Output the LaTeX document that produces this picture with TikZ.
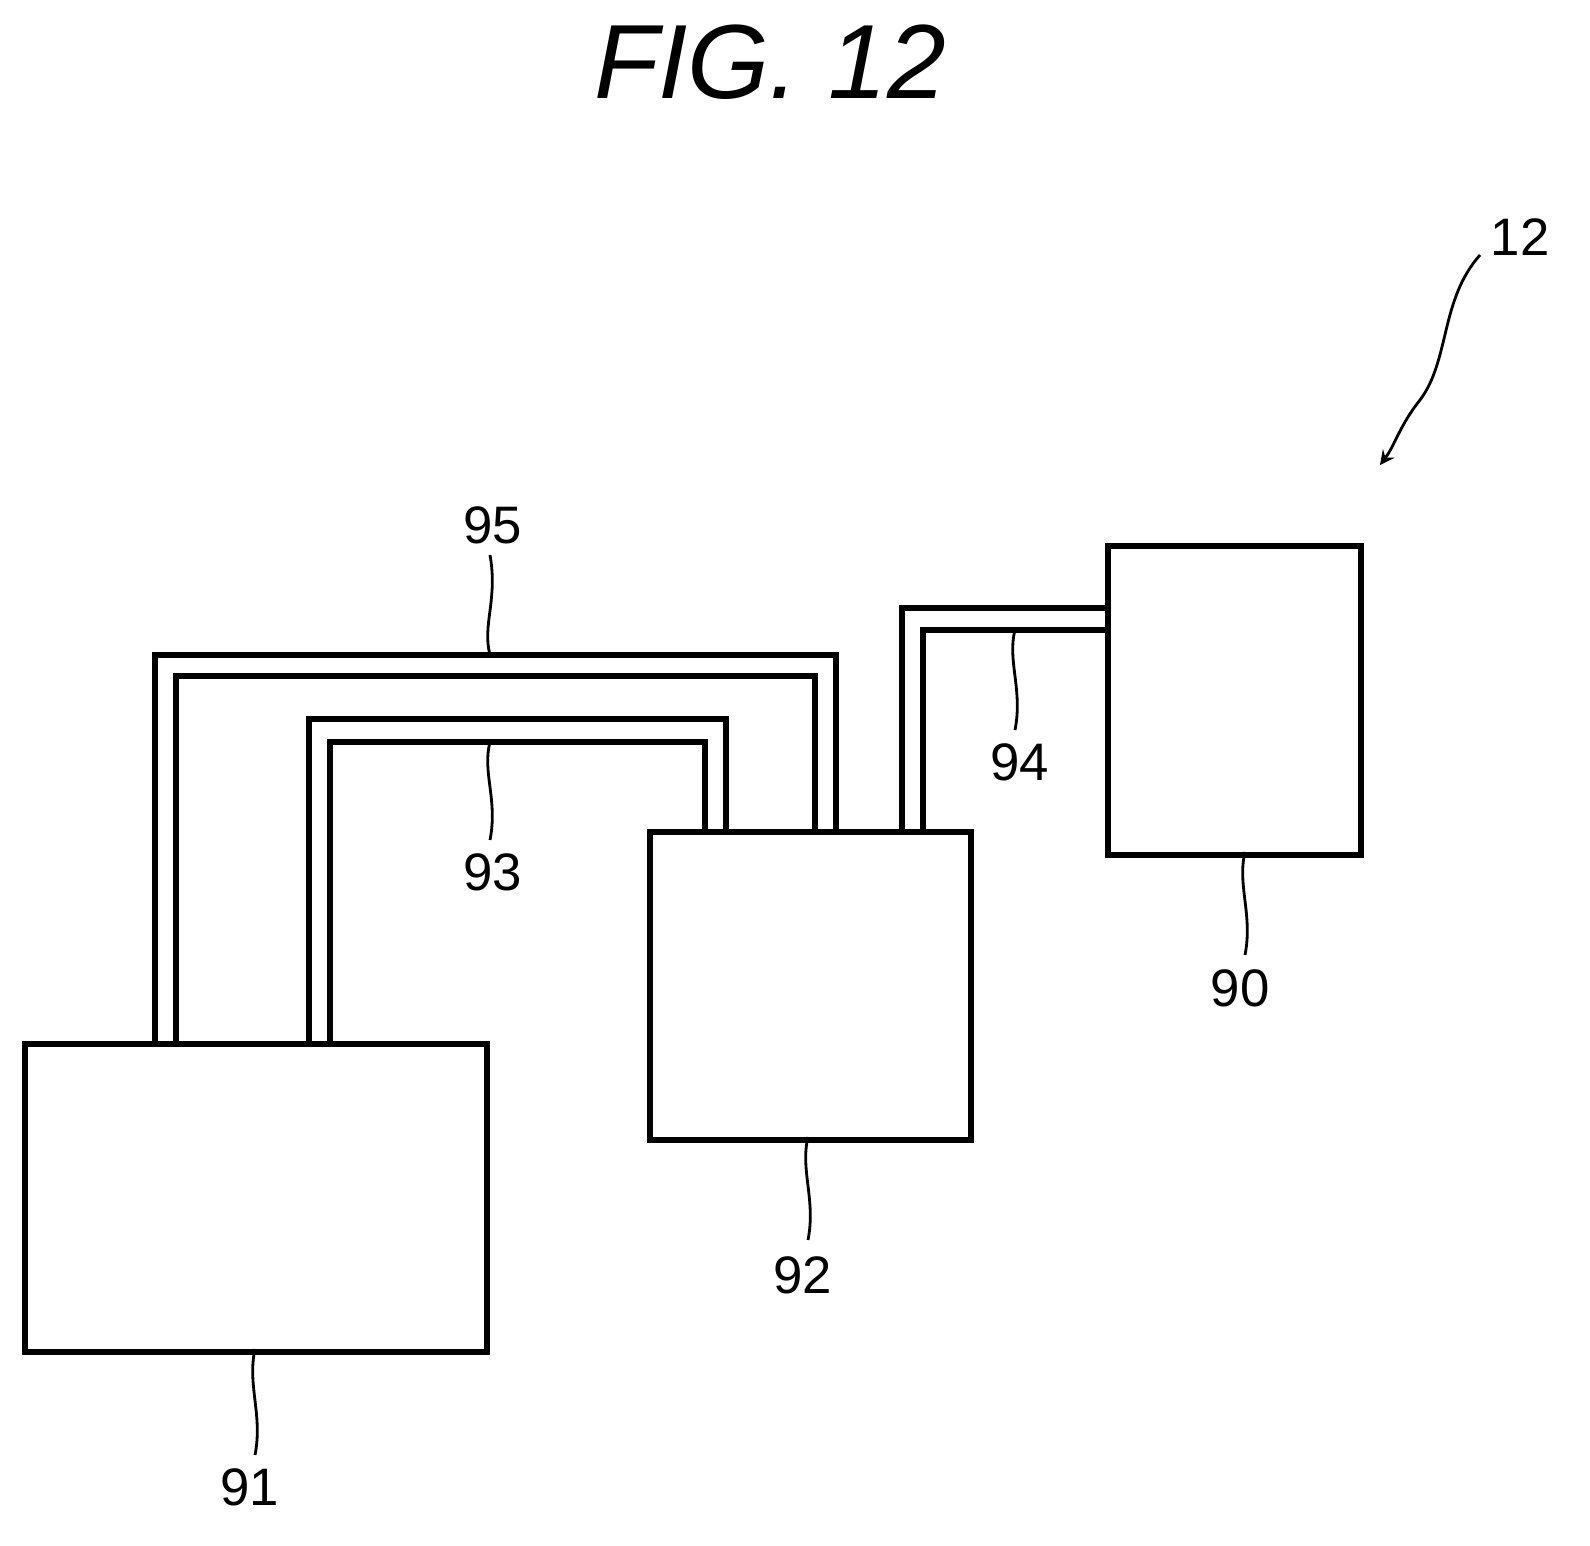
\documentclass[tikz,border=0pt]{standalone}
\usepackage{fontspec}
\setmainfont{Liberation Sans}
\begin{document}
\begin{tikzpicture}[x=0.01cm,y=-0.01cm,
  box/.style={draw,line width=1.6pt},
  pipe/.style={draw,line width=1.6pt},
  lead/.style={draw,line width=0.8pt},
  lab/.style={font=\fontsize{15}{15}\selectfont}]
\useasboundingbox (0,0) rectangle (1590,1546);
\node[font=\itshape\fontsize{30}{30}\selectfont] (title) at (770,62) {FIG. 12};
% boxes
\node[box,minimum width=4.62cm,minimum height=3.08cm,anchor=north west] (b91) at (22,1041) {};
\node[box,minimum width=3.21cm,minimum height=3.08cm,anchor=north west] (b92) at (647,829) {};
\node[box,minimum width=2.53cm,minimum height=3.09cm,anchor=north west] (b90) at (1105,543) {};
% pipe 95
\draw[pipe] (155,1041) |- (836,655) -- (836,829);
\draw[pipe] (176,1041) |- (815,676) -- (815,829);
% pipe 93
\draw[pipe] (309,1041) |- (726,719) -- (726,829);
\draw[pipe] (330,1041) |- (705,742) -- (705,829);
% pipe 94
\draw[pipe] (902,829) |- (1105,608);
\draw[pipe] (923,829) |- (1105,630);
% labels
\node[lab] (l95) at (493,525) {95};
\node[lab] (l93) at (493,872) {93};
\node[lab] (l94) at (1020,762) {94};
\node[lab] (l90) at (1240,988) {90};
\node[lab] (l92) at (803,1275) {92};
\node[lab] (l91) at (250,1487) {91};
\node[lab] (l12) at (1520,237) {12};
% leaders
\draw[lead] (490,655) .. controls (482,625) and (498,600) .. (490,555);
\draw[lead] (490,742) .. controls (482,772) and (498,800) .. (490,840);
\draw[lead] (1015,630) .. controls (1007,660) and (1023,690) .. (1015,730);
\draw[lead] (1245,852) .. controls (1237,885) and (1253,915) .. (1245,955);
\draw[lead] (808,1137) .. controls (800,1170) and (816,1200) .. (808,1240);
\draw[lead] (255,1349) .. controls (247,1385) and (263,1415) .. (255,1455);
\draw[lead,->,>={stealth}] (1480,255) .. controls (1440,300) and (1450,360) .. (1420,400) .. controls (1400,425) and (1395,445) .. (1380,465);
\end{tikzpicture}
\end{document}
